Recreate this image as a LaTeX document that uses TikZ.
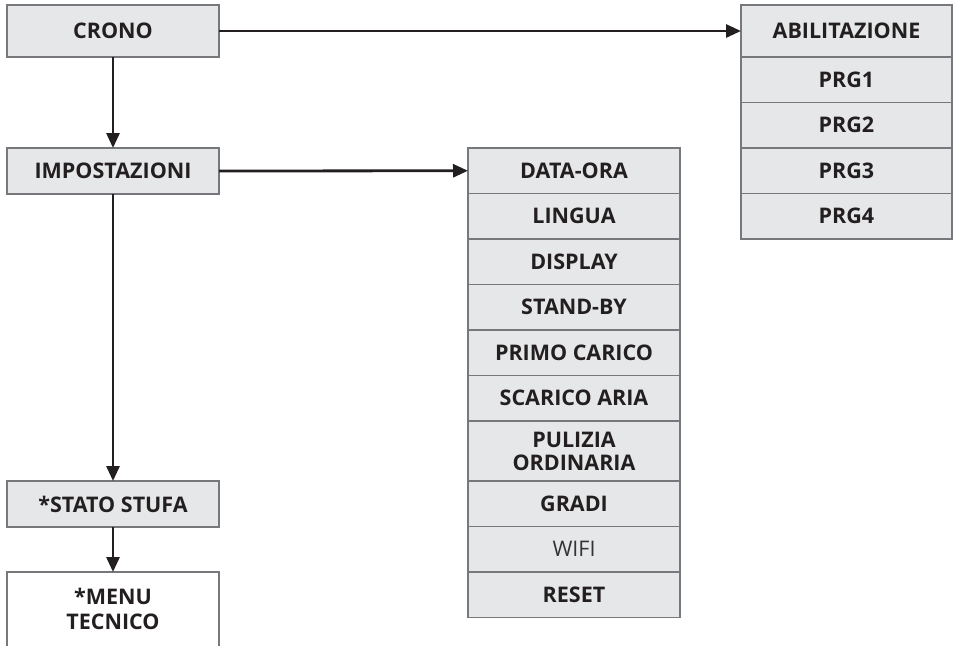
\documentclass[tikz,border=0pt]{standalone}
\usepackage{fontspec}
\setmainfont{Open Sans}
\usetikzlibrary{positioning,arrows.meta}
\definecolor{boxgray}{HTML}{E6E7E8}
\definecolor{linegray}{HTML}{77787B}
\definecolor{txtdark}{HTML}{231F20}
\begin{document}
\begin{tikzpicture}[x=1pt,y=-1pt,
  menu/.style={draw=linegray, fill=boxgray, line width=1.3pt, minimum width=212pt, minimum height=45.5pt,
    inner sep=0pt, outer sep=0pt, text=txtdark, align=center, font=\fontsize{21.5}{25}\selectfont\bfseries},
  link/.style={-{Triangle[length=15pt,width=13pt]}, line width=2.8pt, draw=txtdark}]
\useasboundingbox (0,0) rectangle (954,646);
% left column
\node (crono)[menu, minimum height=52pt, anchor=north west] at (7,5) {CRONO};
\node (impo)[menu, minimum height=46pt, anchor=north west] at (7,148) {IMPOSTAZIONI};
\node (stato)[menu, minimum height=46pt, anchor=north west] at (7,481) {*STATO STUFA};
\node (tecnico)[menu, draw=none, fill=white, minimum height=74pt, anchor=north west] at (7,572) {*MENU\\TECNICO};
\draw[draw=linegray, line width=1.3pt] (tecnico.south west) -- (tecnico.north west) -- (tecnico.north east) -- (tecnico.south east);
% crono submenu
\node (abil)[menu, minimum width=211pt, minimum height=52pt, anchor=north west] at (741,5) {ABILITAZIONE};
\node (prg1)[menu, minimum width=211pt, below=0pt of abil] {PRG1};
\node (prg2)[menu, minimum width=211pt, below=0pt of prg1] {PRG2};
\node (prg3)[menu, minimum width=211pt, below=0pt of prg2] {PRG3};
\node (prg4)[menu, minimum width=211pt, below=0pt of prg3] {PRG4};
% impostazioni submenu
\node (dataora)[menu, anchor=north west] at (468,148) {DATA-ORA};
\node (lingua)[menu, below=0pt of dataora] {LINGUA};
\node (display)[menu, below=0pt of lingua] {DISPLAY};
\node (standby)[menu, below=0pt of display] {STAND-BY};
\node (primo)[menu, below=0pt of standby] {PRIMO CARICO};
\node (scarico)[menu, below=0pt of primo] {SCARICO ARIA};
\node (pulizia)[menu, minimum height=60pt, below=0pt of scarico, font=\fontsize{21.5}{23}\selectfont\bfseries] {PULIZIA\\ORDINARIA};
\node (gradi)[menu, below=0pt of pulizia] {GRADI};
\node (wifi)[menu, font=\fontsize{21.5}{25}\selectfont, text=black!80, below=0pt of gradi] {WIFI};
\node (reset)[menu, below=0pt of wifi] {RESET};
% connectors
\draw[link] (crono) -- (impo);
\draw[link] (impo) -- (stato);
\draw[link] (stato) -- (tecnico);
\draw[link] (crono.east) -- (abil.west);
\draw[link] (impo.east) -- (dataora.west);
\end{tikzpicture}
\end{document}
